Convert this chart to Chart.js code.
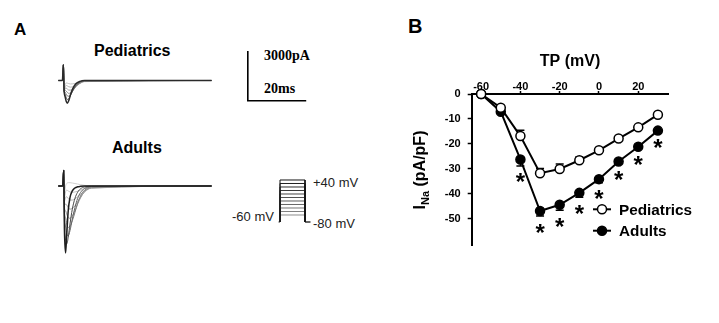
<!DOCTYPE html>
<html>
<head>
<meta charset="utf-8">
<script src="https://cdn.jsdelivr.net/npm/chart.js@4.4.1/dist/chart.umd.min.js"></script>
<style>
  body { margin: 0; background: #fff; }
  #fig { position: relative; width: 719px; height: 323px; overflow: hidden; background: #fff;
         font-family: "Liberation Sans", Arial, sans-serif; color: #000; }
  #fig canvas { position: absolute; }
  .lbl { position: absolute; white-space: nowrap; line-height: 1; }
  .b { font-weight: bold; }
  .serif { font-family: "Liberation Serif", "Times New Roman", serif; font-weight: bold; font-size: 14px; }
  .mv { font-size: 13px; color: #222; }
</style>
</head>
<body>
<div id="fig">
  <div class="lbl b" style="left:14px;top:21px;font-size:17px">A</div>
  <div class="lbl b" style="left:408px;top:16px;font-size:20px">B</div>
  <div class="lbl b" style="left:94px;top:43px;font-size:16px">Pediatrics</div>
  <div class="lbl b" style="left:112px;top:140px;font-size:16px">Adults</div>
  <div class="lbl serif" style="left:264px;top:49px">3000pA</div>
  <div class="lbl serif" style="left:264px;top:82px">20ms</div>
  <div class="lbl mv" style="left:313px;top:176px">+40 mV</div>
  <div class="lbl mv" style="left:232px;top:210px">-60 mV</div>
  <div class="lbl mv" style="left:313px;top:217px">-80 mV</div>

  <canvas id="pedTraces" width="270" height="80" style="left:50px;top:40px"></canvas>
  <canvas id="adultTraces" width="200" height="110" style="left:50px;top:160px"></canvas>
  <canvas id="protocol" width="50" height="60" style="left:270px;top:170px"></canvas>
  <canvas id="ivChart" width="319" height="323" style="left:400px;top:0px"></canvas>
</div>
<script>
"use strict";

// ---- panel B: I-V relation ----
const tpMv = [-60, -50, -40, -30, -20, -10, 0, 10, 20, 30];
const pediatricsINa = [0, -5.5, -16.9, -31.8, -30.1, -26.6, -22.6, -17.9, -13.4, -8.3];
const pediatricsSem = [0, 0.4, 2.3, 1.9, 2.0, 1.3, 0.8, 0.7, 0.6, 0.5];
const adultsINa = [0, -7.1, -26.3, -47.0, -44.5, -39.7, -34.2, -27.1, -21.2, -14.7];
const adultsSem = [0, 0.5, 2.6, 2.0, 2.2, 1.8, 1.4, 0.8, 0.6, 0.5];
const significant = [false, false, true, true, true, true, true, true, true, true];
const xTickValues = [-60, -40, -20, 0, 20];
const yTickValues = [0, -10, -20, -30, -40, -50];

// ---- panel A: current traces (pA) ----
const pedTimeMs = [0, 1.4, 1.75, 2.0, 2.3, 2.7, 3.1, 3.6, 4.2, 5.0, 6.0, 7.4, 9, 52.5];
const pedTracesPA = [
  [0, 0, 950, -650, -950, -1250, -1370, -1200, -850, -480, -200, -50, 0, 0],
  [0, 0, 950, -650, -820, -1020, -1150, -1100, -900, -600, -300, -90, -10, 0],
  [0, 0, 950, -650, -700, -830, -930, -950, -850, -620, -340, -120, -20, 0],
  [0, 0, 950, -650, -600, -640, -720, -780, -740, -600, -380, -160, -40, 0],
  [0, 0, 950, -650, -500, -460, -520, -580, -580, -500, -360, -180, -60, 0],
  [0, 0, 950, -650, -400, -300, -330, -380, -400, -370, -290, -170, -70, 0],
  [0, 0, 950, -650, -300, -150, -160, -190, -210, -200, -170, -110, -50, 0]
];
const adultTimeMs = [0, 1.5, 1.85, 2.1, 2.5, 2.9, 3.4, 4.0, 4.8, 5.7, 6.6, 7.6, 9, 11.4, 52.5];
const adultTracesPA = [
  [0, 0, 950, -2600, -4050, -2900, -1500, -700, -300, -120, -50, -20, 0, 0, 0],
  [0, 0, 950, -2000, -3200, -3500, -3100, -2300, -1400, -750, -380, -170, -60, -10, 0],
  [0, 0, 950, -1700, -2400, -2900, -3000, -2700, -2000, -1300, -760, -400, -150, -30, 0],
  [0, 0, 950, -1500, -1900, -2300, -2500, -2450, -2100, -1600, -1050, -600, -250, -60, 0],
  [0, 0, 950, -1300, -1500, -1700, -1900, -1950, -1800, -1500, -1100, -720, -330, -100, 0],
  [0, 0, 950, -1100, -1100, -1150, -1300, -1400, -1350, -1200, -950, -680, -360, -130, 0],
  [0, 0, 950, -900, -700, -650, -750, -850, -850, -780, -650, -500, -300, -120, 0],
  [0, 0, 950, -700, -350, -250, -300, -360, -380, -360, -320, -250, -160, -70, 0],
  [0, 0, 950, -500, 0, 150, 200, 200, 180, 150, 120, 80, 40, 10, 0]
];
const scaleBarPA = 3000;
const scaleBarMs = 20;

// ---- voltage protocol (mV) ----
const protocolStepsMv = [40, 30, 20, 10, 0, -10, -20, -30, -40, -50, -60];
const holdingMv = -80;
const stepDurationMs = 50;

const pedColors = ['#2a2a2a', '#5a5a5a', '#767676', '#8e8e8e', '#a2a2a2', '#b4b4b4', '#c4c4c4'];
const adultColors = ['#1e1e1e', '#4a4a4a', '#646464', '#7a7a7a', '#8e8e8e', '#a2a2a2', '#b4b4b4', '#c4c4c4', '#d0d0d0'];

const baseOptions = {
  responsive: false,
  animation: false,
  devicePixelRatio: 1,
  layout: { padding: 0 },
  plugins: { legend: { display: false }, tooltip: { enabled: false } }
};

function hiddenScales(xmin, xmax, ymin, ymax) {
  return {
    x: { type: 'linear', display: false, min: xmin, max: xmax },
    y: { type: 'linear', display: false, min: ymin, max: ymax }
  };
}

function traceDatasets(times, traces, colors) {
  return traces.map((tr, k) => ({
    data: times.map((t, i) => ({ x: t, y: tr[i] })),
    borderColor: colors[k],
    borderWidth: k === 0 ? 1.5 : 1,
    pointRadius: 0,
    cubicInterpolationMode: 'monotone'
  }));
}

// pediatrics traces + scale bar
const barT = 64.9, barTop = 1780;
new Chart(document.getElementById('pedTraces'), {
  type: 'line',
  data: {
    datasets: [{
      data: [
        { x: barT, y: barTop },
        { x: barT, y: barTop - scaleBarPA },
        { x: barT + scaleBarMs, y: barTop - scaleBarPA }
      ],
      borderColor: '#000', borderWidth: 1.6, pointRadius: 0
    }].concat(traceDatasets(pedTimeMs, pedTracesPA, pedColors))
  },
  options: Object.assign({}, baseOptions, { scales: hiddenScales(-2.84, 89.62, -2386, 2446) })
});

// adult traces
new Chart(document.getElementById('adultTraces'), {
  type: 'line',
  data: { datasets: traceDatasets(adultTimeMs, adultTracesPA, adultColors) },
  options: Object.assign({}, baseOptions, { scales: hiddenScales(-2.84, 65.65, -5074, 1570) })
});

// voltage protocol
const protoDatasets = protocolStepsMv.map((v, k) => ({
  data: [
    { x: 0, y: holdingMv }, { x: 0, y: v },
    { x: stepDurationMs, y: v }, { x: stepDurationMs, y: holdingMv }
  ],
  borderColor: 'rgb(' + [20 + k * 12, 20 + k * 12, 20 + k * 12].join(',') + ')',
  borderWidth: 1, pointRadius: 0
}));
protoDatasets.push(
  { data: [{ x: -3, y: holdingMv }, { x: 0, y: holdingMv }], borderColor: '#333', borderWidth: 1, pointRadius: 0 },
  { data: [{ x: stepDurationMs, y: holdingMv }, { x: stepDurationMs + 11, y: holdingMv }], borderColor: '#333', borderWidth: 1.5, pointRadius: 0 }
);
new Chart(document.getElementById('protocol'), {
  type: 'line',
  data: { datasets: protoDatasets },
  options: Object.assign({}, baseOptions, { scales: hiddenScales(-20, 80, -102.86, 68.57) })
});

// ---- panel B ----
const ivExtras = {
  id: 'ivExtras',
  beforeDatasetsDraw(chart) {
    const { ctx, scales: { x, y } } = chart;
    ctx.save();
    ctx.strokeStyle = '#000';
    ctx.lineWidth = 1.5;
    [[pediatricsINa, pediatricsSem, 1], [adultsINa, adultsSem, -1]].forEach(([vals, errs, dir]) => {
      vals.forEach((v, i) => {
        if (!errs[i]) return;
        const px = x.getPixelForValue(tpMv[i]);
        const p0 = y.getPixelForValue(v);
        const p1 = y.getPixelForValue(v + dir * errs[i]);
        ctx.beginPath();
        ctx.moveTo(px, p0); ctx.lineTo(px, p1);
        ctx.moveTo(px - 4, p1); ctx.lineTo(px + 4, p1);
        ctx.stroke();
      });
    });
    ctx.restore();
  },
  afterDatasetsDraw(chart) {
    const { ctx, scales: { x, y } } = chart;
    ctx.save();
    ctx.fillStyle = '#000';

    // significance marks under the adult points
    ctx.font = 'bold 24px "Liberation Sans", Arial';
    ctx.textAlign = 'center';
    ctx.textBaseline = 'alphabetic';
    const m = ctx.measureText('*');
    const mid = (m.actualBoundingBoxDescent - m.actualBoundingBoxAscent) / 2;
    adultsINa.forEach((v, i) => {
      if (!significant[i]) return;
      const cy = y.getPixelForValue(v - adultsSem[i]) + 12;
      ctx.fillText('*', x.getPixelForValue(tpMv[i]), cy - mid);
    });

    // y axis title with subscript
    ctx.translate(21, 170);
    ctx.rotate(-Math.PI / 2);
    ctx.textAlign = 'left';
    ctx.textBaseline = 'middle';
    const big = 'bold 16px "Liberation Sans", Arial';
    const small = 'bold 11px "Liberation Sans", Arial';
    ctx.font = big; const wI = ctx.measureText('I').width; const wRest = ctx.measureText(' (pA/pF)').width;
    ctx.font = small; const wNa = ctx.measureText('Na').width;
    let sx = -(wI + wNa + wRest) / 2;
    ctx.font = big; ctx.fillText('I', sx, 0); sx += wI;
    ctx.font = small; ctx.fillText('Na', sx, 5); sx += wNa;
    ctx.font = big; ctx.fillText(' (pA/pF)', sx, 0);
    ctx.restore();

    // legend inside the plot
    ctx.save();
    const rows = [209.3, 230.7];
    chart.data.datasets.forEach((ds, k) => {
      const ly = rows[k];
      ctx.strokeStyle = '#000';
      ctx.lineWidth = 2;
      ctx.beginPath(); ctx.moveTo(193, ly); ctx.lineTo(211, ly); ctx.stroke();
      ctx.beginPath(); ctx.arc(202, ly, 4.5, 0, Math.PI * 2);
      ctx.fillStyle = ds.pointBackgroundColor; ctx.fill();
      ctx.lineWidth = 1.5; ctx.stroke();
      ctx.fillStyle = '#000';
      ctx.font = 'bold 15.3px "Liberation Sans", Arial';
      ctx.textAlign = 'left';
      ctx.textBaseline = 'middle';
      ctx.fillText(ds.label, 219, ly + 1);
    });
    ctx.restore();
  }
};

const tickFont = { family: '"Liberation Sans", Arial', size: 11, weight: 'bold' };

new Chart(document.getElementById('ivChart'), {
  type: 'line',
  data: {
    datasets: [
      {
        label: 'Pediatrics',
        data: tpMv.map((t, i) => ({ x: t, y: pediatricsINa[i] })),
        borderColor: '#000', borderWidth: 2,
        pointRadius: 4.5, pointBorderWidth: 1.5,
        pointBackgroundColor: '#fff', pointBorderColor: '#000',
        clip: false
      },
      {
        label: 'Adults',
        data: tpMv.map((t, i) => ({ x: t, y: adultsINa[i] })),
        borderColor: '#000', borderWidth: 2,
        pointRadius: 4.5, pointBorderWidth: 1.5,
        pointBackgroundColor: '#000', pointBorderColor: '#000',
        clip: false
      }
    ]
  },
  options: Object.assign({}, baseOptions, {
    layout: { padding: { left: 0, top: 0, right: 50.7, bottom: 78 } },
    scales: {
      x: {
        type: 'linear', position: 'top', min: -64.8, max: 35.3,
        afterFit(scale) { scale.height = 94; },
        afterBuildTicks(scale) { scale.ticks = xTickValues.map(v => ({ value: v })); },
        grid: { drawOnChartArea: false, tickLength: 3, tickColor: '#000', tickWidth: 1.5 },
        border: { display: true, color: '#000', width: 2 },
        ticks: { color: '#000', font: tickFont, padding: -3, maxRotation: 0 },
        title: {
          display: true, text: 'TP (mV)', color: '#000',
          font: { family: '"Liberation Sans", Arial', size: 16, weight: 'bold' },
          padding: { top: 52, bottom: 0 }
        }
      },
      y: {
        type: 'linear', position: 'left', min: -60.64, max: 0,
        afterFit(scale) { scale.width = 71.7; },
        afterBuildTicks(scale) { scale.ticks = yTickValues.map(v => ({ value: v })); },
        grid: { drawOnChartArea: false, tickLength: 4, tickColor: '#000', tickWidth: 1.5 },
        border: { display: true, color: '#000', width: 2 },
        ticks: { color: '#000', font: tickFont, padding: 7 }
      }
    }
  }),
  plugins: [ivExtras]
});
</script>
</body>
</html>
